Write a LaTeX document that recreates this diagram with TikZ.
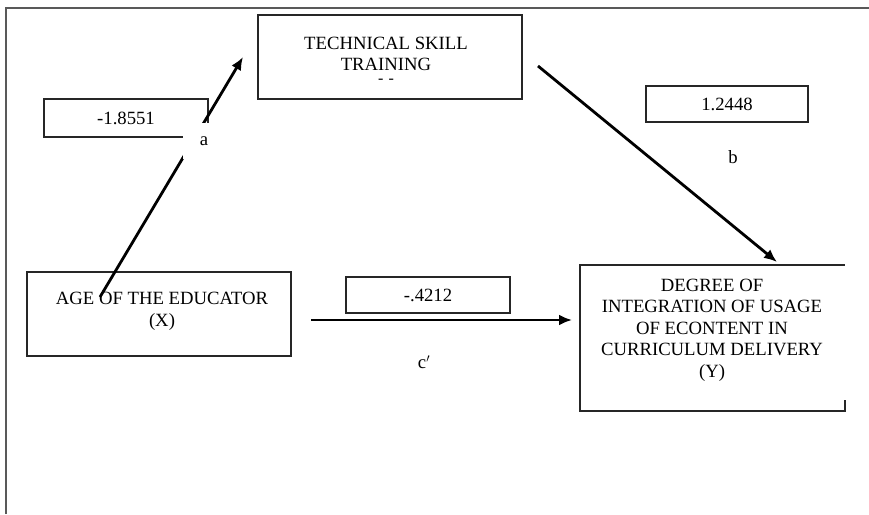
\documentclass[tikz,border=0pt]{standalone}
\usepackage{fontspec}
\setmainfont{Liberation Serif}
\usetikzlibrary{arrows.meta,calc}
\begin{document}
\begin{tikzpicture}[x=1pt,y=-1pt,
  every node/.style={font=\fontsize{18.7}{21.6}\selectfont, inner sep=0pt, align=center},
  boxline/.style={draw=black!85, line width=1.4pt},
  numbox/.style={boxline, fill=white, minimum width=163pt, minimum height=36pt},
  conn/.style={line width=2.8pt, -{Latex[length=13pt,width=11pt]}},
  frame/.style={draw=black!65, line width=1.8pt}]
\useasboundingbox (0,0) rectangle (869,514);
% outer frame
\draw[frame] (6,514) -- (6,8) -- (869,8);
% boxes
\node[boxline, minimum width=264pt, minimum height=84pt] (m) at (390,57) {};
\node (mtxt) at (386,54) {TECHNICAL SKILL\\TRAINING};
\node[font=\fontsize{16}{16}\selectfont, text height=5pt, text depth=0pt, anchor=base] (mdash) at (386,83) {-\,\,-};
\node[boxline, minimum width=264pt, minimum height=84pt] (x) at (159,314) {};
\node (xtxt) at (162,311) {AGE OF THE EDUCATOR\\(X)};
\coordinate (ytl) at (580,265);
\coordinate (ybr) at (845,411);
\draw[boxline] (845,400) -- (ybr) -- (ybr -| ytl) -- (ytl) -- (ytl -| ybr);
\node (y) at (712,330) {DEGREE OF\\INTEGRATION OF USAGE\\OF ECONTENT IN\\CURRICULUM DELIVERY\\(Y)};
% coefficient boxes
\node[numbox, minimum width=164pt, minimum height=38pt] (abox) at (126,118) {-1.8551};
\node[numbox, minimum width=162pt] (bbox) at (727,104) {1.2448};
\node[numbox, minimum width=164pt] (cbox) at (428,295) {-.4212};
% connectors
\coordinate (astart) at (100,297);
\coordinate (aend) at (243,57);
\draw[conn] (astart) -- (aend);
\coordinate (bstart) at (538,66);
\coordinate (bend) at (777,262);
\draw[conn] (bstart) -- (bend);
\coordinate (cstart) at (311,320);
\coordinate (cend) at (572,320);
\draw[conn] (cstart) -- (cend);
% path labels
\node[fill=white, minimum width=36pt, minimum height=36pt, text depth=0pt] (alab) at (201,141) {\hspace*{6pt}a};
\node (blab) at (733,157) {b};
\node (clab) at (424,362) {c$'$};
\end{tikzpicture}
\end{document}
